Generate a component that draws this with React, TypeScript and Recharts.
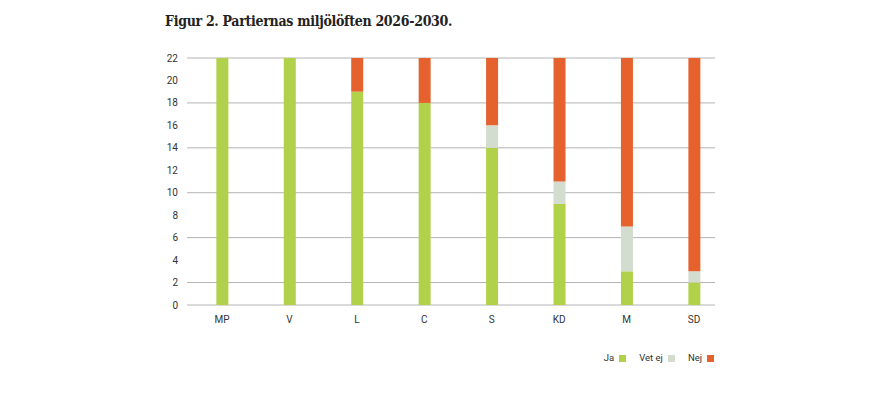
import React from 'react';
import { BarChart, Bar, XAxis, YAxis, CartesianGrid } from 'recharts';

const parties = ['MP', 'V', 'L', 'C', 'S', 'KD', 'M', 'SD'];
const ja = [22, 22, 19, 18, 14, 9, 3, 2];
const vetEj = [0, 0, 0, 0, 2, 2, 4, 1];
const nej = [0, 0, 3, 4, 6, 11, 15, 19];
const yTicks = [0, 2, 4, 6, 8, 10, 12, 14, 16, 18, 20, 22];

const COLORS = { ja: '#b1d14a', vet: '#d3dccf', nej: '#e5622f' };
const FONT = 'Roboto, "Noto Sans", sans-serif';

const data = parties.map((p, i) => ({ idx: i, name: p, ja: ja[i], vet: vetEj[i], nej: nej[i] }));

const legendItems = [
  { label: 'Ja', color: COLORS.ja },
  { label: 'Vet ej', color: COLORS.vet },
  { label: 'Nej', color: COLORS.nej },
];

const LegendBox = () => (
  <div
    style={{
      position: 'absolute',
      right: 884 - 714,
      top: 352,
      display: 'flex',
      fontFamily: FONT,
      fontSize: 9.5,
      lineHeight: '12px',
      color: '#333',
    }}
  >
    {legendItems.map(it => (
      <div key={it.label} style={{ display: 'flex', alignItems: 'center', marginLeft: 13 }}>
        <span>{it.label}</span>
        <span style={{ display: 'inline-block', width: 7, height: 7, background: it.color, marginLeft: 5 }} />
      </div>
    ))}
  </div>
);

export default function App() {
  return (
    <div style={{ position: 'absolute', left: 0, top: 0, width: 884, height: 405, background: '#fff' }}>
      <div
        style={{
          position: 'absolute',
          left: 165,
          top: 13,
          fontFamily: '"DejaVu Serif Condensed", "DejaVu Serif", serif',
          fontStretch: 'condensed',
          fontWeight: 'bold',
          fontSize: 14,
          letterSpacing: -0.3,
          color: '#222',
          whiteSpace: 'nowrap',
        }}
      >
        Figur 2. Partiernas miljölöften 2026-2030.
      </div>
      <BarChart width={884} height={405} data={data} margin={{ top: 58, right: 169, bottom: 70, left: 0 }}>
        <CartesianGrid vertical={false} stroke="#b4b4b4" strokeWidth={1} />
        <XAxis
          type="number"
          dataKey="idx"
          height={30}
          domain={[-0.52, 7.31]}
          ticks={[0, 1, 2, 3, 4, 5, 6, 7]}
          allowDataOverflow
          tickFormatter={(v: number) => parties[v] ?? ''}
          axisLine={false}
          tickLine={false}
          tickMargin={5}
          tick={{ fontFamily: FONT, fontSize: 10, fill: '#333' }}
        />
        <YAxis
          width={187}
          domain={[0, 22]}
          ticks={yTicks}
          axisLine={false}
          tickLine={false}
          tickMargin={3}
          tick={{ fontFamily: FONT, fontSize: 10, fill: '#333' }}
        />
        <Bar dataKey="ja" name="Ja" stackId="a" fill={COLORS.ja} barSize={12} isAnimationActive={false} />
        <Bar dataKey="vet" name="Vet ej" stackId="a" fill={COLORS.vet} barSize={12} isAnimationActive={false} />
        <Bar dataKey="nej" name="Nej" stackId="a" fill={COLORS.nej} barSize={12} isAnimationActive={false} />
      </BarChart>
      <LegendBox />
    </div>
  );
}
